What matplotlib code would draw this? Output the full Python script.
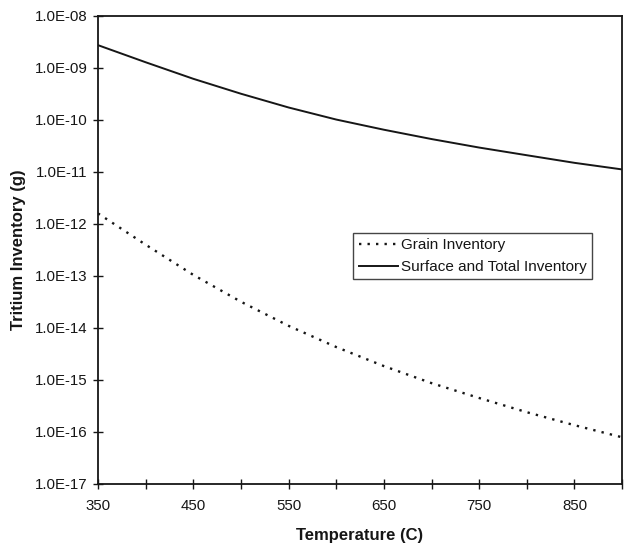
import matplotlib
matplotlib.use('Agg')
import matplotlib.pyplot as plt
from matplotlib.ticker import FixedLocator, FuncFormatter

plt.rcParams['font.family'] = ['Liberation Sans', 'DejaVu Sans']

# temperature (C)
temperature = [350, 400, 450, 500, 550, 600, 650, 700, 750, 800, 850, 900]
# tritium inventory (g)
grain_inventory = [1.6e-12, 4.0e-13, 1.05e-13, 3.2e-14, 1.1e-14, 4.3e-15,
                   1.85e-15, 8.7e-16, 4.5e-16, 2.4e-16, 1.35e-16, 7.9e-17]
surface_total_inventory = [2.75e-9, 1.29e-9, 6.2e-10, 3.2e-10, 1.74e-10, 1.02e-10,
                           6.5e-11, 4.3e-11, 2.95e-11, 2.1e-11, 1.5e-11, 1.12e-11]

x_labels = [350, 450, 550, 650, 750, 850]
x_minor = [400, 500, 600, 700, 800, 900]
y_ticks = [10.0 ** e for e in range(-17, -7)]

ink = '#161616'

fig = plt.figure(figsize=(6.24, 5.46), dpi=100)
ax = fig.add_axes([0.157, 0.1136, 0.84, 0.8571])

ax.plot(temperature, grain_inventory, color=ink, lw=1.7,
        linestyle=(0, (1, 2.6)), label='Grain Inventory')
ax.plot(temperature, surface_total_inventory, color=ink, lw=1.4,
        label='Surface and Total Inventory')

ax.set_yscale('log')
ax.set_xlim(350, 900)
ax.set_ylim(1e-17, 1e-8)

ax.yaxis.set_major_locator(FixedLocator(y_ticks))
ax.yaxis.set_minor_locator(FixedLocator([]))
ax.yaxis.set_major_formatter(FuncFormatter(lambda v, p: f'{v:.1E}'))
ax.xaxis.set_major_locator(FixedLocator(x_labels))
ax.xaxis.set_minor_locator(FixedLocator(x_minor))

ax.tick_params(which='both', direction='inout', length=7, width=1.0,
               color=ink, labelsize=10.8, labelcolor=ink)
ax.tick_params(axis='y', pad=4)
ax.tick_params(axis='x', pad=7)

for s in ax.spines.values():
    s.set_linewidth(1.3)
    s.set_color(ink)

ax.set_xlabel('Temperature (C)', fontsize=12, fontweight='bold', color=ink, labelpad=11)
ax.set_ylabel('Tritium Inventory (g)', fontsize=12, fontweight='bold', color=ink, labelpad=6)

leg = ax.legend(loc='upper left', bbox_to_anchor=(0.487, 0.536), fontsize=11,
                frameon=True, fancybox=False, edgecolor=ink, handlelength=2.6,
                handletextpad=0.2, borderpad=0.35, labelspacing=0.5, borderaxespad=0)
leg.get_frame().set_linewidth(1.0)
for t in leg.get_texts():
    t.set_color(ink)

fig.savefig('out.png', dpi=100)
